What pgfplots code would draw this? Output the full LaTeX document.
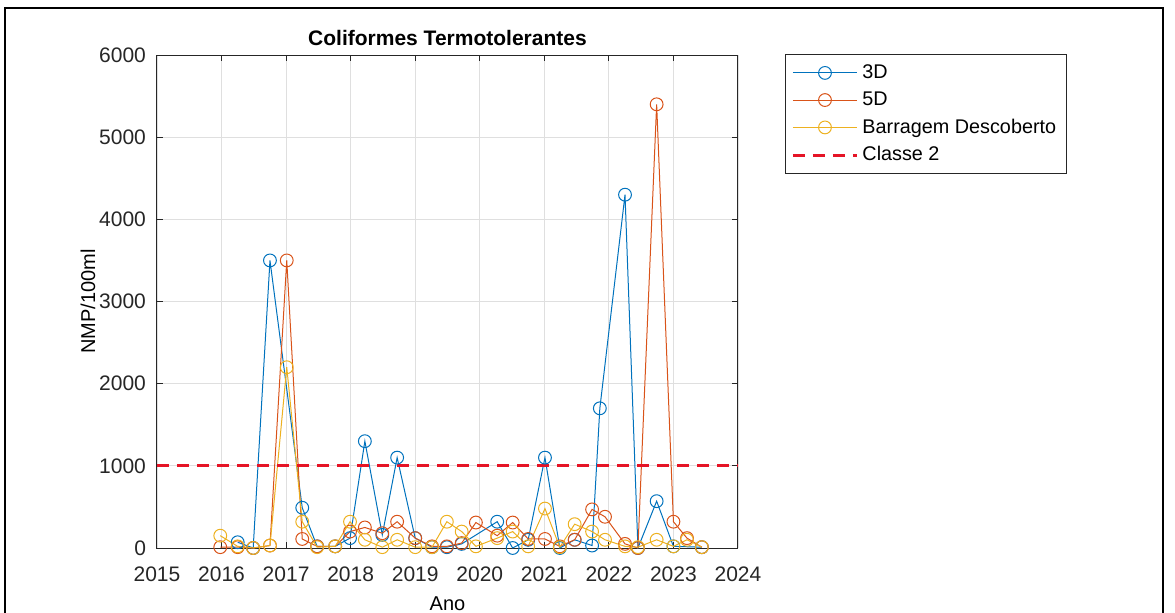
\documentclass[border=0pt]{standalone}
\usepackage{fontspec}
\setmainfont{Liberation Sans}
\usepackage{pgfplots}
\pgfplotsset{compat=1.18}

\definecolor{c3d}{rgb}{0,0.447,0.741}
\definecolor{c5d}{rgb}{0.851,0.325,0.098}
\definecolor{cbar}{rgb}{0.929,0.694,0.125}
\definecolor{axgray}{gray}{0.15}
\definecolor{classe}{rgb}{0.9,0.08,0.15}

\begin{document}
\begin{tikzpicture}
\useasboundingbox (0,0) rectangle (587.5pt,306pt);
% figure frame
\draw[line width=0.8pt] (2.5pt,-5pt) -- (2.5pt,302pt) -- (581.5pt,302pt) -- (581.5pt,-5pt);

\begin{axis}[
    at={(78.5pt,32pt)}, anchor=south west,
    scale only axis,
    width=290.5pt, height=246.5pt,
    xmin=2015, xmax=2024,
    ymin=0, ymax=6000,
    xtick={2015,2016,...,2024},
    ytick={0,1000,...,6000},
    /pgf/number format/set thousands separator={},
    /pgf/number format/assume math mode=true,
    ticklabel style={font=\fontsize{10.5}{12}\selectfont, text=axgray},
    xticklabel style={yshift=-6pt},
    yticklabel style={xshift=-2pt},
    axis line style={axgray, line width=0.5pt},
    tick style={axgray, line width=0.5pt},
    major tick length=3pt,
    grid=major,
    major grid style={gray!25, line width=0.4pt},
    title={\textbf{Coliformes Termotolerantes}},
    every axis title/.style={at={(0.5,1)}, anchor=base, yshift=5pt, font=\fontsize{10.5}{12}\selectfont},
    xlabel={Ano},
    ylabel={NMP/100ml},
    label style={font=\fontsize{8.6}{10}\selectfont, text=axgray},
    every axis x label/.style={at={(rel axis cs:0.5,0)}, yshift=-28pt, anchor=center},
    every axis y label/.style={at={(rel axis cs:0,0.5)}, xshift=-34.5pt, rotate=90, anchor=center},
    legend style={at={(1,1)}, anchor=north west, xshift=23.5pt, yshift=0.5pt,
        font=\fontsize{9.9}{11}\selectfont, draw=axgray, line width=0.5pt,
        cells={anchor=west}, row sep=1.2pt, inner xsep=3pt, inner ysep=3pt},
    legend image code/.code={\draw[mark repeat=2,mark phase=2,#1]
        plot coordinates {(0pt,0pt) (16pt,0pt) (32pt,0pt)};},
    every axis plot/.append style={line width=0.5pt, mark size=3.2pt, mark options={solid, fill=none}},
]

\addplot[c3d, mark=o] coordinates {
(2016.25,70) (2016.49,0) (2016.75,3500) (2017.25,490) (2017.48,20) (2017.76,20)
(2017.99,120) (2018.22,1300) (2018.49,160) (2018.72,1100) (2019.0,120) (2019.26,10)
(2019.49,10) (2019.72,50) (2020.27,320) (2020.51,0) (2020.75,100) (2021.01,1100)
(2021.24,0) (2021.47,100) (2021.74,30) (2021.86,1700) (2022.25,4300) (2022.45,0)
(2022.74,570) (2023.0,20) (2023.44,10)
};
\addlegendentry{3D}

\addplot[c5d, mark=o] coordinates {
(2015.98,10) (2016.25,10) (2016.49,0) (2016.75,30) (2017.01,3500) (2017.25,110)
(2017.48,20) (2017.76,20) (2017.99,200) (2018.22,250) (2018.49,180) (2018.72,320)
(2019.0,120) (2019.26,20) (2019.49,20) (2019.72,60) (2019.94,310) (2020.27,150)
(2020.51,310) (2020.75,110) (2021.01,110) (2021.24,20) (2021.47,100) (2021.74,470)
(2021.94,380) (2022.25,50) (2022.45,0) (2022.74,5400) (2023.0,320) (2023.21,120)
(2023.44,10)
};
\addlegendentry{5D}

\addplot[cbar, mark=o] coordinates {
(2015.98,150) (2016.25,20) (2016.49,0) (2016.75,30) (2017.01,2200) (2017.25,320)
(2017.48,10) (2017.76,20) (2017.99,320) (2018.22,100) (2018.49,10) (2018.72,100)
(2019.0,10) (2019.26,10) (2019.49,320) (2019.72,200) (2019.94,20) (2020.27,120)
(2020.51,200) (2020.75,20) (2021.01,480) (2021.24,10) (2021.47,290) (2021.74,200)
(2021.94,100) (2022.25,20) (2022.45,10) (2022.74,100) (2023.0,20) (2023.21,100)
(2023.44,10)
};
\addlegendentry{Barragem Descoberto}

\addplot[classe, line width=1.5pt, dash pattern=on 6pt off 4pt, mark=none] coordinates {
(2015,1000) (2024,1000)
};
\addlegendentry{Classe 2}

\end{axis}
\end{tikzpicture}
\end{document}
